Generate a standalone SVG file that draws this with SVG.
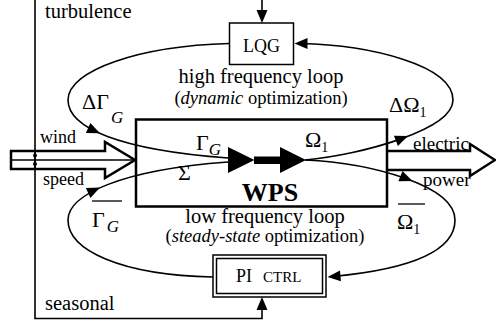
<svg xmlns="http://www.w3.org/2000/svg" xmlns:xlink="http://www.w3.org/1999/xlink" width="496" height="322" viewBox="0 0 496 322">
  <style>
    .ln { fill: none; stroke: #000; stroke-width: 1.6; }
    .box { fill: #fff; stroke: #000; stroke-width: 1.5; }
    .fat { fill: none; stroke: #000; stroke-width: 2.5; stroke-linejoin: miter; }
    .t { font-family: "Liberation Serif", "Times New Roman", serif; fill: #000; }
    .it { font-style: italic; }
  </style>
  <defs>
    <path id="ah" d="M0,0 L-13,-5.5 L-13,5.5 Z" fill="#000"/>
  </defs>

  <!-- loops and signal lines -->
  <g id="connectors">
    <!-- turbulence / seasonal disturbance lines -->
    <path class="ln" d="M35,0 V318.5 H262 V308"/>
    <path class="ln" d="M262,0 V12"/>
    <use xlink:href="#ah" transform="translate(262,23) rotate(90)"/>
    <use xlink:href="#ah" transform="translate(262,297) rotate(-90)"/>

    <!-- high frequency loop -->
    <path class="ln" d="M229,43.5 C140,46 68,70 68,100 C68,128 120,150 228,158"/>
    <path class="ln" d="M305,160 C360,155 453,130 453,100 C453,65 370,45 300,43.5"/>
    <use xlink:href="#ah" transform="translate(100,133.3) rotate(24)"/>
    <use xlink:href="#ah" transform="translate(408,136) rotate(-21.5)"/>
    <use xlink:href="#ah" transform="translate(294.5,43.5) rotate(180)"/>

    <!-- low frequency loop -->
    <path class="ln" d="M213,277 C120,275 68,250 68,220 C68,195 120,170 228,162"/>
    <path class="ln" d="M305,160 C370,163 455,185 455,220 C455,260 380,272 333,276.5"/>
    <use xlink:href="#ah" transform="translate(100,187.6) rotate(-24.4)"/>
    <use xlink:href="#ah" transform="translate(412.5,181) rotate(22)"/>
    <use xlink:href="#ah" transform="translate(327.5,277) rotate(175)"/>
  </g>

  <!-- wind speed input arrow -->
  <g id="wind">
    <path class="fat" d="M11,151 H105 V142 L135,160 L105,178 V169 H11 Z" fill="#fff"/>
    <path class="ln" d="M11,160 H133" stroke-width="1.2"/>
    <line x1="35" y1="151" x2="35" y2="169" stroke="#000" stroke-width="1.6"/>
    <circle cx="35" cy="155.5" r="2" fill="#000"/>
    <circle cx="35" cy="164" r="2" fill="#000"/>
    <text class="t" x="40" y="143" font-size="18">wind</text>
    <text class="t" x="43" y="185" font-size="18">speed</text>
  </g>

  <!-- electric power output arrow -->
  <g id="power">
    <path class="fat" d="M387,151 H470 V144 L495,160 L470,176 V170 H387"/>
    <text class="t" x="413" y="150" font-size="19">electric</text>
    <text class="t" x="423" y="185.5" font-size="19">power</text>
  </g>

  <!-- wind power system block -->
  <g id="wps">
    <rect class="fat" x="136" y="119.5" width="251" height="87"/>
    <path d="M228,147 L254.5,160 L228,173 Z" fill="#000"/>
    <rect x="254" y="156.5" width="27" height="7.5" fill="#000"/>
    <path d="M280,147 L306,160 L280,173 Z" fill="#000"/>
    <text class="t" x="270" y="201" font-size="26" font-weight="bold" text-anchor="middle">WPS</text>
    <text class="t" x="196" y="150" font-size="22">Γ<tspan class="it" font-size="17" dy="5">G</tspan></text>
    <text class="t" x="178" y="180" font-size="22">Σ</text>
    <text class="t" x="305" y="147" font-size="22">Ω<tspan font-size="14" dy="5">1</tspan></text>
  </g>

  <!-- LQG controller -->
  <g id="lqg">
    <rect class="box" x="229.5" y="23" width="64" height="41.5"/>
    <text class="t" x="261.5" y="51.5" font-size="18" text-anchor="middle">LQG</text>
  </g>

  <!-- PI controller -->
  <g id="pi-ctrl">
    <rect class="box" x="213" y="255" width="113" height="42"/>
    <rect class="box" x="216.5" y="258.5" width="106" height="35"/>
    <text class="t" x="236" y="282" font-size="18">PI</text>
    <text class="t" x="263" y="282" font-size="15">CTRL</text>
  </g>

  <!-- loop labels -->
  <g id="labels">
    <text class="t" x="45" y="18" font-size="20.5">turbulence</text>
    <text class="t" x="45" y="309.5" font-size="20.5">seasonal</text>

    <text class="t" x="261" y="83" font-size="20.5" text-anchor="middle">high frequency loop</text>
    <text class="t" x="261" y="104" font-size="18.5" text-anchor="middle">(<tspan class="it">dynamic</tspan> optimization)</text>
    <text class="t" x="265" y="223" font-size="20.5" text-anchor="middle">low frequency loop</text>
    <text class="t" x="265" y="242" font-size="18.5" text-anchor="middle">(<tspan class="it">steady-state</tspan> optimization)</text>

    <text class="t" x="82" y="108.5" font-size="22">ΔΓ<tspan class="it" font-size="17" dy="14" dx="2">G</tspan></text>
    <text class="t" x="389" y="111.5" font-size="22">ΔΩ<tspan font-size="14" dy="5">1</tspan></text>

    <line x1="92" y1="201" x2="122" y2="201" stroke="#000" stroke-width="1.3"/>
    <text class="t" x="92" y="227" font-size="22">Γ<tspan class="it" font-size="17" dy="5" dx="2">G</tspan></text>
    <line x1="398" y1="204" x2="425" y2="204" stroke="#000" stroke-width="1.3"/>
    <text class="t" x="397" y="228.5" font-size="22">Ω<tspan font-size="14" dy="5">1</tspan></text>
  </g>
</svg>
